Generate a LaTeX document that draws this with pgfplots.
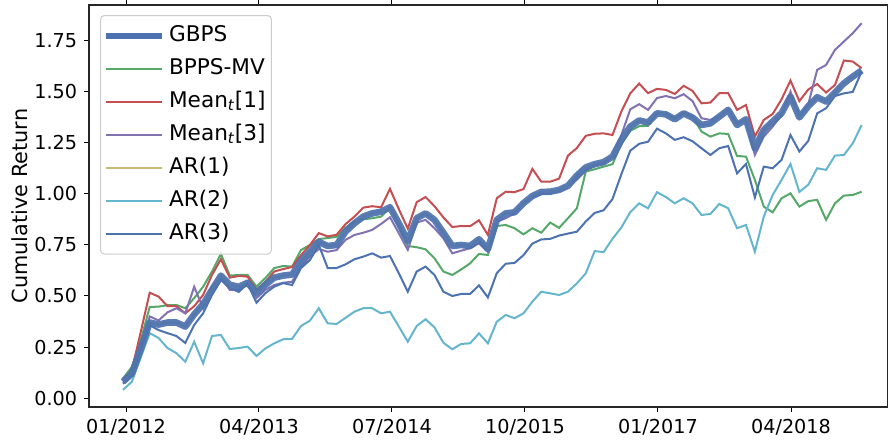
\documentclass[border=0pt]{standalone}
\usepackage{fontspec}
\setmainfont{DejaVu Sans}
\usepackage{pgfplots}
\usepackage{pgfplotstable}
\pgfplotsset{compat=1.18}
\definecolor{cBlue}{HTML}{4C72B0}
\definecolor{cGreen}{HTML}{55A868}
\definecolor{cRed}{HTML}{C44E52}
\definecolor{cPurple}{HTML}{8172B2}
\definecolor{cYellow}{HTML}{CCB974}
\definecolor{cCyan}{HTML}{64B5CD}

\pgfplotstableread{
k gbps bpps meanA meanC arB arC
0 0.080 0.096 0.088 0.073 0.040 0.070
1 0.120 0.153 0.137 0.113 0.080 0.110
2 0.240 0.284 0.325 0.245 0.200 0.240
3 0.370 0.446 0.516 0.400 0.318 0.357
4 0.360 0.448 0.497 0.380 0.294 0.333
5 0.370 0.455 0.450 0.420 0.245 0.318
6 0.370 0.456 0.450 0.440 0.220 0.304
7 0.350 0.440 0.415 0.415 0.178 0.270
8 0.410 0.490 0.450 0.545 0.276 0.358
9 0.460 0.545 0.505 0.440 0.170 0.415
10 0.530 0.620 0.603 0.546 0.304 0.505
11 0.600 0.706 0.680 0.590 0.309 0.578
12 0.555 0.600 0.590 0.530 0.240 0.540
13 0.545 0.603 0.598 0.530 0.245 0.520
14 0.565 0.603 0.595 0.570 0.252 0.560
15 0.515 0.546 0.530 0.490 0.206 0.467
16 0.555 0.588 0.570 0.530 0.243 0.514
17 0.590 0.637 0.620 0.554 0.268 0.546
18 0.600 0.647 0.632 0.565 0.288 0.563
19 0.605 0.644 0.642 0.570 0.290 0.554
20 0.670 0.725 0.700 0.644 0.353 0.637
21 0.717 0.750 0.750 0.693 0.379 0.676
22 0.765 0.779 0.808 0.730 0.440 0.750
23 0.745 0.784 0.792 0.717 0.366 0.637
24 0.750 0.790 0.800 0.725 0.363 0.637
25 0.815 0.835 0.852 0.775 0.393 0.655
26 0.856 0.864 0.889 0.799 0.423 0.680
27 0.889 0.876 0.933 0.810 0.440 0.693
28 0.905 0.881 0.940 0.824 0.440 0.709
29 0.913 0.889 0.935 0.853 0.415 0.688
30 0.935 0.933 1.025 0.886 0.423 0.696
31 0.856 0.840 0.925 0.807 0.350 0.611
32 0.770 0.745 0.830 0.726 0.276 0.521
33 0.881 0.739 0.960 0.860 0.353 0.620
34 0.905 0.729 0.985 0.873 0.386 0.644
35 0.873 0.685 0.940 0.832 0.346 0.603
36 0.810 0.620 0.885 0.783 0.271 0.521
37 0.745 0.603 0.838 0.709 0.239 0.500
38 0.750 0.630 0.843 0.722 0.265 0.510
39 0.745 0.660 0.842 0.734 0.268 0.510
40 0.778 0.706 0.871 0.758 0.317 0.552
41 0.730 0.701 0.799 0.717 0.268 0.493
42 0.873 0.843 0.979 0.864 0.374 0.612
43 0.905 0.848 1.011 0.881 0.407 0.658
44 0.910 0.832 1.009 0.905 0.391 0.662
45 0.955 0.802 1.024 0.955 0.415 0.700
46 0.990 0.832 1.123 0.985 0.472 0.757
47 1.010 0.810 1.060 1.000 0.521 0.777
48 1.011 0.860 1.060 1.003 0.513 0.780
49 1.020 0.834 1.075 1.015 0.505 0.796
50 1.040 0.881 1.188 1.040 0.521 0.806
51 1.090 0.930 1.225 1.070 0.562 0.815
52 1.130 1.110 1.285 1.114 0.611 0.865
53 1.146 1.121 1.295 1.142 0.720 0.907
54 1.156 1.134 1.297 1.150 0.715 0.920
55 1.183 1.146 1.289 1.183 0.780 0.975
56 1.265 1.245 1.404 1.289 0.836 1.097
57 1.330 1.310 1.493 1.415 0.911 1.212
58 1.360 1.332 1.541 1.440 0.954 1.246
59 1.350 1.334 1.494 1.412 0.930 1.256
60 1.395 1.395 1.515 1.470 1.009 1.320
61 1.390 1.394 1.510 1.480 0.985 1.297
62 1.366 1.371 1.490 1.469 0.954 1.265
63 1.395 1.399 1.530 1.489 0.979 1.278
64 1.374 1.379 1.505 1.455 0.954 1.258
65 1.338 1.306 1.444 1.371 0.897 1.224
66 1.346 1.281 1.448 1.363 0.902 1.191
67 1.379 1.297 1.494 1.379 0.951 1.224
68 1.412 1.294 1.494 1.412 0.930 1.235
69 1.338 1.186 1.412 1.346 0.832 1.101
70 1.366 1.183 1.436 1.363 0.848 1.147
71 1.224 1.069 1.281 1.191 0.717 0.983
72 1.314 0.938 1.363 1.281 0.889 1.134
73 1.355 0.910 1.392 1.330 0.995 1.126
74 1.396 0.979 1.464 1.387 1.069 1.167
75 1.477 1.003 1.556 1.502 1.147 1.289
76 1.375 0.938 1.455 1.379 1.010 1.208
77 1.430 0.965 1.512 1.440 1.045 1.260
78 1.474 0.971 1.539 1.608 1.126 1.395
79 1.453 0.873 1.497 1.632 1.118 1.420
80 1.497 0.954 1.534 1.706 1.188 1.480
81 1.542 0.992 1.654 1.747 1.191 1.493
82 1.575 0.995 1.649 1.788 1.248 1.500
83 1.605 1.011 1.616 1.837 1.338 1.600
}\data

\begin{document}
\begin{tikzpicture}
\begin{axis}[
  at={(44.5pt,16.5pt)}, anchor=south west,
  scale only axis, width=399.5pt, height=201pt,
  xmin=-3.82, xmax=85.96, ymin=-0.044, ymax=1.926,
  xtick={0.34,15.28,30.22,45.17,60.11,75.06},
  xticklabels={01/2012,04/2013,07/2014,10/2015,01/2017,04/2018},
  ytick={0,0.25,0.5,0.75,1,1.25,1.5,1.75},
  yticklabel style={/pgf/number format/.cd, fixed, fixed zerofill, precision=2},
  /pgf/number format/assume math mode=true,
  tick label style={font=\fontsize{9.6}{11}\selectfont, black},
  tick align=outside, major tick length=2.4pt,
  tick style={black, line width=0.5pt},
  axis line style={black!85, line width=0.6pt},
  every axis y label/.style={at={(axis description cs:-0.0864,0.5)}, rotate=90, anchor=center, font=\fontsize{10.4}{12}\selectfont},
  ylabel={Cumulative Return},
  legend cell align=left,
  legend image code/.code={\draw[#1] (0pt,0pt) -- (24pt,0pt); \path (0pt,0pt) -- (28pt,0pt);},
  legend style={at={(axis description cs:0,1)}, anchor=north west, xshift=5.5pt, yshift=-5pt,
    draw=black!20, line width=0.5pt, rounded corners=2pt, fill=white, fill opacity=0.8, text opacity=1,
    font=\fontsize{10.8}{12.8}\selectfont, inner xsep=1pt, inner ysep=3.5pt, row sep=3.2pt,
    nodes={inner xsep=2pt, inner ysep=1.5pt, text height=8pt, text depth=2.3pt}},
]
\addlegendimage{cBlue, line width=3.3pt}
\addlegendentry{GBPS}
\addlegendimage{cGreen, line width=1pt}
\addlegendentry{BPPS-MV}
\addlegendimage{cRed, line width=1pt}
\addlegendentry{Mean\textsubscript{\itshape t}[1]}
\addlegendimage{cPurple, line width=1pt}
\addlegendentry{Mean\textsubscript{\itshape t}[3]}
\addlegendimage{cYellow, line width=1pt}
\addlegendentry{AR(1)}
\addlegendimage{cCyan, line width=1pt}
\addlegendentry{AR(2)}
\addlegendimage{cBlue, line width=1pt}
\addlegendentry{AR(3)}

\addplot[forget plot, cGreen, line width=1pt] table[x=k, y=bpps] {\data};
\addplot[forget plot, cRed, line width=1pt] table[x=k, y=meanA] {\data};
\addplot[forget plot, cPurple, line width=1pt] table[x=k, y=meanC] {\data};
\addplot[forget plot, cYellow, line width=1pt] table[x=k, y=gbps] {\data};
\addplot[forget plot, cCyan, line width=1pt] table[x=k, y=arB] {\data};
\addplot[forget plot, cBlue, line width=1pt] table[x=k, y=arC] {\data};
\addplot[forget plot, cBlue, line width=3.3pt, opacity=0.92, line join=round] table[x=k, y=gbps] {\data};
\end{axis}
\pgfresetboundingbox
\path[use as bounding box] (0,0) rectangle (444pt,220pt);
\end{tikzpicture}
\end{document}
